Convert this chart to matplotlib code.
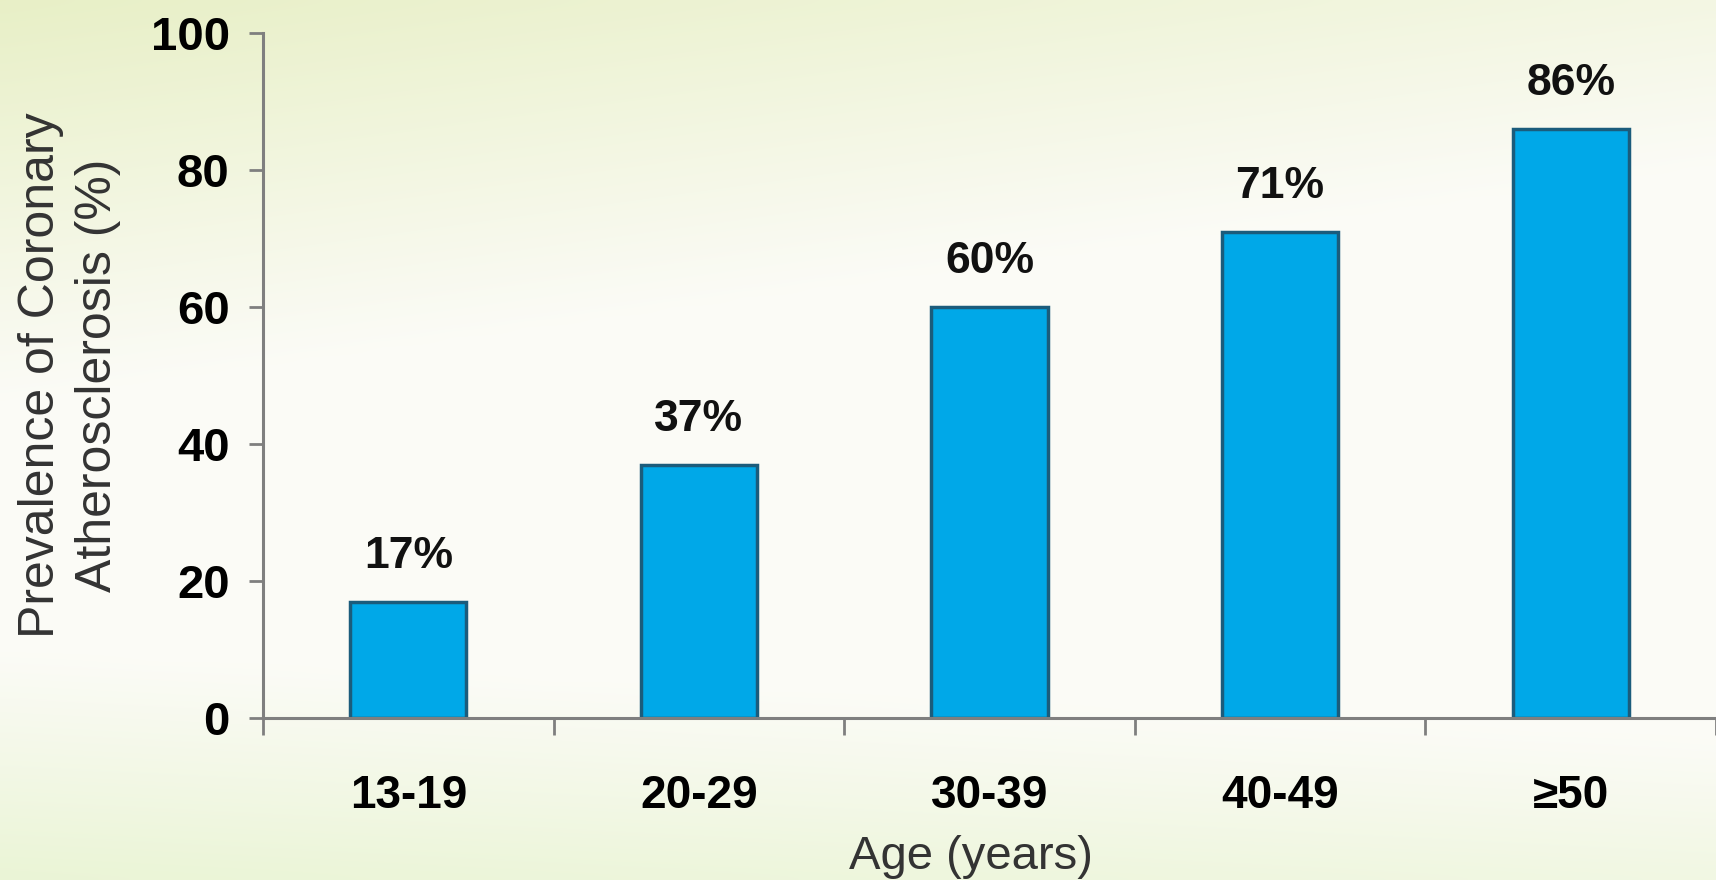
import numpy as np
import matplotlib.pyplot as plt

plt.rcParams['font.family'] = ['Liberation Sans', 'DejaVu Sans']

age_groups = ['13-19', '20-29', '30-39', '40-49', '\u226550']
prevalence = [17, 37, 60, 71, 86]
y_ticks = [0, 20, 40, 60, 80, 100]

fig = plt.figure(figsize=(17.16, 8.8), dpi=100)

# soft background wash
bg = fig.add_axes([0, 0, 1, 1], zorder=-10)
h, w = 88, 172
yy, xx = np.mgrid[0:1:h * 1j, 0:1:w * 1j]
top = np.array([0.91, 0.94, 0.78])
mid = np.array([0.985, 0.985, 0.965])
bot = np.array([0.92, 0.96, 0.84])
t_top = np.clip(1 - (yy / 0.45) - xx * 0.6, 0, 1)[..., None]
t_bot = np.clip((yy - 0.75) / 0.25 - xx * 0.4, 0, 1)[..., None]
img = mid * (1 - t_top - t_bot) + top * t_top + bot * t_bot
bg.imshow(np.clip(img, 0, 1), aspect='auto', interpolation='bicubic',
          extent=[0, 1, 0, 1])
bg.axis('off')

ax = fig.add_axes([0.1533, 0.184, 0.8467, 0.7785])
ax.patch.set_alpha(0)

x = np.arange(len(age_groups))
bars = ax.bar(x, prevalence, width=0.4, color='#00a8e8',
              edgecolor='#1b5c7c', linewidth=2.5)

for b, v in zip(bars, prevalence):
    ax.text(b.get_x() + b.get_width() / 2, v + 6.6, f'{v}%',
            ha='center', va='center', fontsize=32, fontweight='bold',
            color='#111111')

ax.set_xlim(-0.5, len(age_groups) - 0.5)
ax.set_ylim(0, 100)

ax.set_xticks(np.arange(len(age_groups) + 1) - 0.5)
ax.set_xticklabels([])
ax.set_xticks(x, minor=True)
ax.set_xticklabels(age_groups, minor=True, fontsize=33, fontweight='bold')
ax.tick_params(axis='x', which='major', length=12, width=2, color='#7f7f7f',
               direction='out')
ax.tick_params(axis='x', which='minor', length=0, pad=40)

ax.set_yticks(y_ticks)
ax.set_yticklabels([str(t) for t in y_ticks], fontsize=34, fontweight='bold')
ax.tick_params(axis='y', length=10, width=2, color='#7f7f7f', pad=14)

for s in ['top', 'right']:
    ax.spines[s].set_visible(False)
for s in ['left', 'bottom']:
    ax.spines[s].set_color('#7f7f7f')
    ax.spines[s].set_linewidth(2.2)

ax.set_ylabel('Prevalence of Coronary\nAtherosclerosis (%)', fontsize=36,
              color='#333333', linespacing=1.3, va='center')
ax.yaxis.set_label_coords(-0.133, 0.5)
ax.set_xlabel('Age (years)', fontsize=34, color='#333333', va='center')
ax.xaxis.set_label_coords(0.487, -0.203)

fig.savefig('out.png', dpi=100)
